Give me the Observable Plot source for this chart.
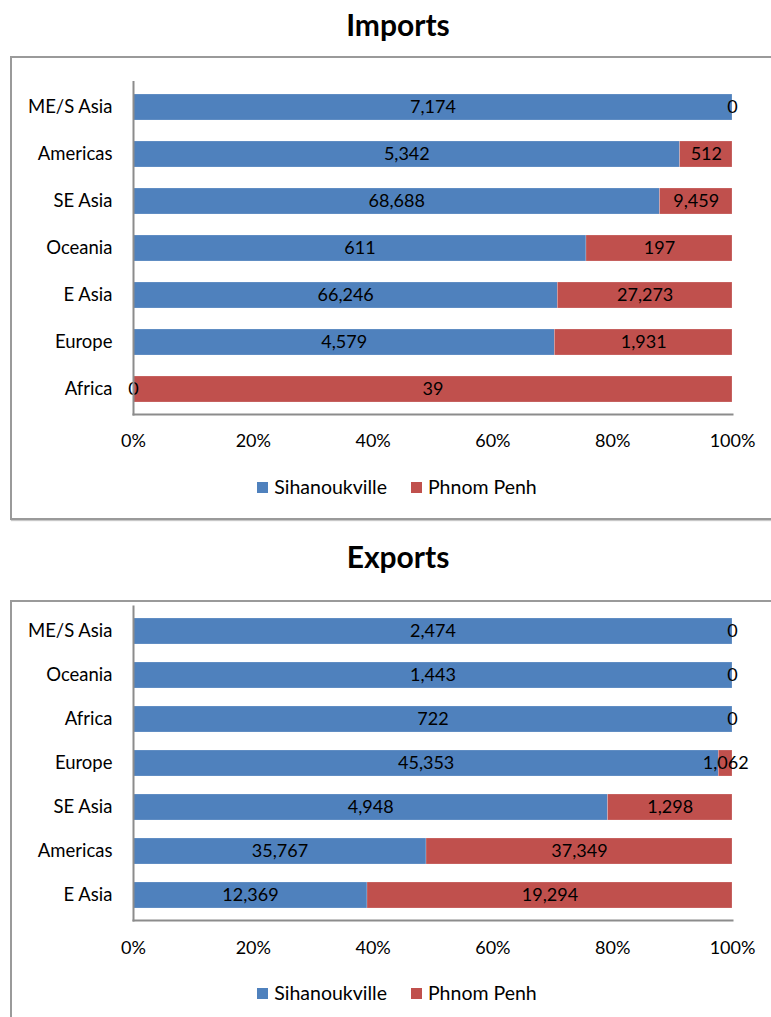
<!DOCTYPE html>
<html>
<head>
<meta charset="utf-8">
<script src="https://cdn.jsdelivr.net/npm/d3@7"></script>
<script src="https://cdn.jsdelivr.net/npm/@observablehq/plot@0.6"></script>
<style>
  html, body { margin: 0; padding: 0; background: #fff; }
  body { position: relative; width: 771px; height: 1017px; overflow: hidden; font-family: Lato, "Open Sans", sans-serif; }
  .title { position: absolute; left: 0; width: 796px; text-align: center; font-weight: bold; font-size: 30px; line-height: 36px; color: #000; }
  .box { position: absolute; left: 10px; width: 800px; border: 2px solid #9a9a9a; box-shadow: 1px 1px 1px #c8c8c8; }
  .chart { position: absolute; left: 0; }
  .legend { position: absolute; left: 0; width: 794px; display: flex; justify-content: center; align-items: center; font-size: 19.5px; line-height: 24px; color: #000; }
  .legend span.sw { display: inline-block; width: 11px; height: 11px; margin-right: 6px; }
  .legend .item { display: flex; align-items: center; margin: 0 12px; }
</style>
</head>
<body>
<script>
const seriesNames = ["Sihanoukville", "Phnom Penh"];
const seriesColors = ["#4F81BD", "#C0504D"];

const importRegions = ["ME/S Asia", "Americas", "SE Asia", "Oceania", "E Asia", "Europe", "Africa"];
const importSihanoukville = [7174, 5342, 68688, 611, 66246, 4579, 0];
const importPhnomPenh = [0, 512, 9459, 197, 27273, 1931, 39];

const exportRegions = ["ME/S Asia", "Oceania", "Africa", "Europe", "SE Asia", "Americas", "E Asia"];
const exportSihanoukville = [2474, 1443, 722, 45353, 4948, 35767, 12369];
const exportPhnomPenh = [0, 0, 0, 1062, 1298, 37349, 19294];

const xTicks = [0, 0.2, 0.4, 0.6, 0.8, 1];

function rows(regions, a, b) {
  const out = [];
  regions.forEach((r, i) => {
    out.push({region: r, series: seriesNames[0], value: a[i]});
    out.push({region: r, series: seriesNames[1], value: b[i]});
  });
  return out;
}

function addTitle(text, top) {
  const d = document.createElement("div");
  d.className = "title";
  d.style.top = top + "px";
  d.textContent = text;
  document.body.appendChild(d);
}
function addBox(top, height) {
  const d = document.createElement("div");
  d.className = "box";
  d.style.top = top + "px";
  d.style.height = height + "px";
  document.body.appendChild(d);
}
function addLegend(top) {
  const d = document.createElement("div");
  d.className = "legend";
  d.style.top = top + "px";
  seriesNames.forEach((n, i) => {
    const it = document.createElement("div");
    it.className = "item";
    const sw = document.createElement("span");
    sw.className = "sw";
    sw.style.background = seriesColors[i];
    it.appendChild(sw);
    const t = document.createElement("span");
    t.textContent = n;
    it.appendChild(t);
    d.appendChild(it);
  });
  document.body.appendChild(d);
}

function chart(regions, a, b, top, marginTop, plotHeight, padding, tickPad) {
  const data = rows(regions, a, b);
  const fmt = d3.format(",");
  const marginBottom = 70;
  const p = Plot.plot({
    width: 771,
    height: marginTop + plotHeight + marginBottom,
    marginLeft: 133,
    marginRight: 39,
    marginTop,
    marginBottom,
    style: {fontFamily: "Lato, 'Open Sans', sans-serif", fontSize: "18px", color: "#000", background: "transparent", overflow: "visible"},
    x: {domain: [0, 1], axis: null},
    y: {domain: regions, paddingInner: padding, paddingOuter: padding / 2, axis: null},
    color: {domain: seriesNames, range: seriesColors},
    marks: [
      Plot.barX(data, Plot.stackX({y: "region", x: "value", fill: "series", offset: "normalize", order: null, stroke: "#ffffff", strokeOpacity: 0.35, strokeWidth: 0.6})),
      Plot.text(data, Plot.stackX({y: "region", x: "value", z: "series", offset: "normalize", order: null, text: d => fmt(d.value), fill: "#000", fontSize: 18})),
      Plot.axisY({tickSize: 0, tickPadding: 21, label: null, fontSize: 18.5, fill: "#000"}),
      Plot.axisX({ticks: xTicks, tickFormat: d3.format(".0%"), tickSize: 0, tickPadding: tickPad, label: null, fontSize: 18, fill: "#000"}),
      Plot.frame({anchor: "left", stroke: "#8c8c8c", strokeWidth: 2}),
      Plot.frame({anchor: "bottom", stroke: "#8c8c8c", strokeWidth: 2})
    ]
  });
  p.classList.add("chart");
  p.style.top = top + "px";
  document.body.appendChild(p);
}

// Imports
addTitle("Imports", 6);
addBox(56, 460);
chart(importRegions, importSihanoukville, importPhnomPenh, 57, 24.5, 332.5, 0.45, 20);
addLegend(475);

// Exports
addTitle("Exports", 538);
addBox(600, 440);
chart(exportRegions, exportSihanoukville, exportPhnomPenh, 601, 5, 314, 0.42, 21);
addLegend(981);
</script>
</body>
</html>
